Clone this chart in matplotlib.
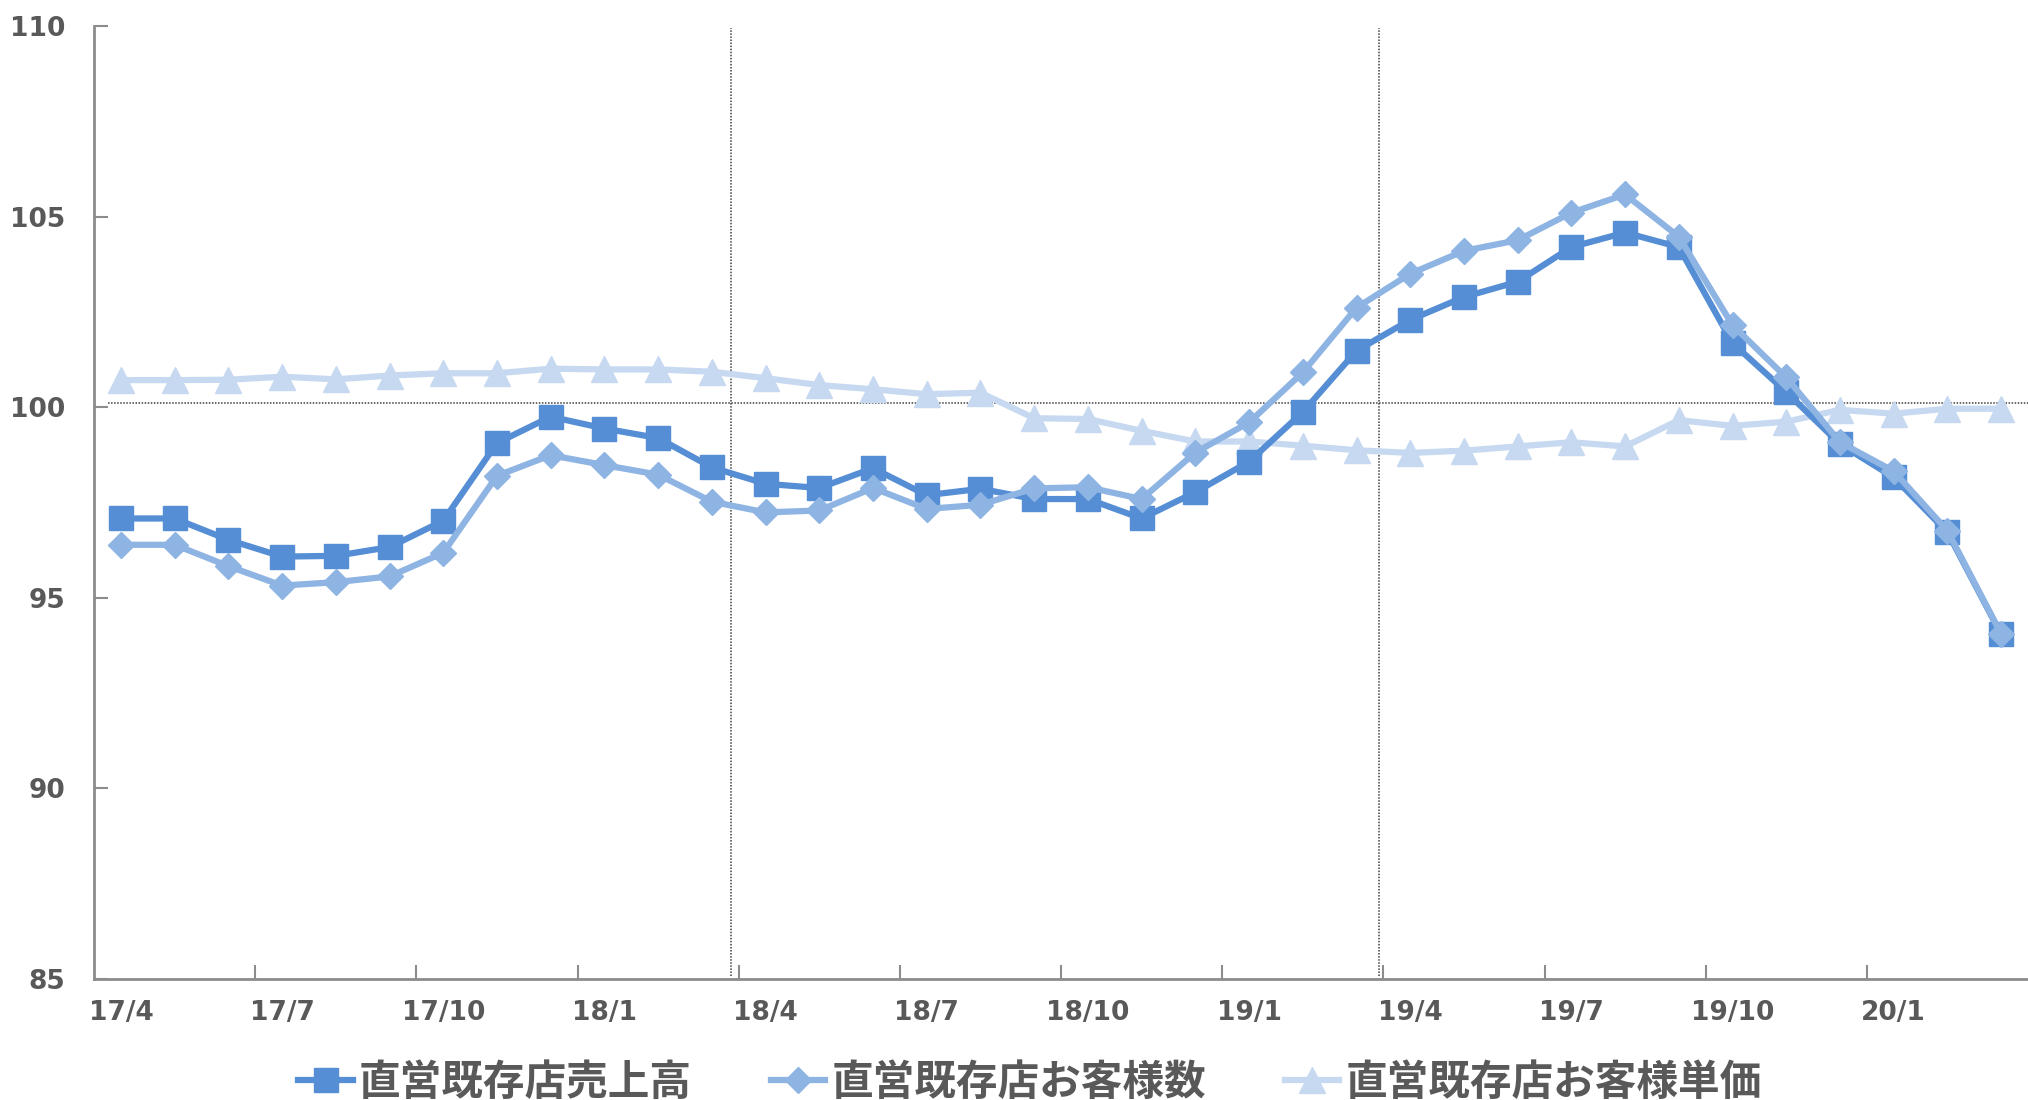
import matplotlib
matplotlib.use("Agg")
import matplotlib.pyplot as plt

# ---------------------------------------------------------------------------
# Data (index, 17/4 .. 20/3)
# ---------------------------------------------------------------------------
months = ["17/4", "17/5", "17/6", "17/7", "17/8", "17/9", "17/10", "17/11",
          "17/12", "18/1", "18/2", "18/3", "18/4", "18/5", "18/6", "18/7",
          "18/8", "18/9", "18/10", "18/11", "18/12", "19/1", "19/2", "19/3",
          "19/4", "19/5", "19/6", "19/7", "19/8", "19/9", "19/10", "19/11",
          "19/12", "20/1", "20/2", "20/3"]

sales = [97.08, 97.08, 96.52, 96.08, 96.10, 96.33, 97.02, 99.06,
         99.75, 99.44, 99.19, 98.42, 97.99, 97.88, 98.40, 97.69,
         97.86, 97.59, 97.59, 97.08, 97.77, 98.57, 99.87, 101.48,
         102.29, 102.89, 103.29, 104.20, 104.58, 104.20, 101.68, 100.40,
         99.03, 98.16, 96.72, 94.04]

customers = [96.39, 96.39, 95.83, 95.32, 95.41, 95.56, 96.18, 98.20,
             98.74, 98.48, 98.23, 97.52, 97.24, 97.29, 97.88, 97.33,
             97.44, 97.87, 97.90, 97.59, 98.81, 99.60, 100.91, 102.61,
             103.50, 104.10, 104.38, 105.10, 105.58, 104.47, 102.15, 100.78,
             99.08, 98.32, 96.76, 94.05]

unit_price = [100.71, 100.71, 100.72, 100.80, 100.73, 100.83, 100.89, 100.89,
              101.01, 100.99, 100.99, 100.93, 100.76, 100.58, 100.47, 100.34,
              100.38, 99.71, 99.69, 99.38, 99.10, 99.10, 98.99, 98.87,
              98.80, 98.86, 98.97, 99.08, 98.97, 99.66, 99.51, 99.62,
              99.93, 99.83, 99.96, 99.96]

labels = ["直営既存店売上高", "直営既存店お客様数", "直営既存店お客様単価"]
tick_labels = months[::3]
fy_marks = [11.36, 23.42]     # fiscal-year separators
base_level = 100.1

# ---------------------------------------------------------------------------
# Figure
# ---------------------------------------------------------------------------
plt.rcParams["font.family"] = ["DejaVu Sans", "Noto Sans CJK JP"]
GREY = "#595959"
AXIS = "#8c8c8c"

fig = plt.figure(figsize=(20.28, 11.0), dpi=100)
ax = fig.add_axes([0.0464, 0.11, 0.9536, 0.8664])

x = list(range(len(months)))

ax.plot(x, unit_price, color="#c6d9f1", lw=4.5, marker="^", ms=19,
        mec="#c6d9f1", label=labels[2], zorder=3)
ax.plot(x, sales, color="#558ed5", lw=4.5, marker="s", ms=17,
        mec="#558ed5", label=labels[0], zorder=4)
ax.plot(x, customers, color="#8eb4e3", lw=4.5, marker="D", ms=13,
        mec="#8eb4e3", label=labels[1], zorder=5)

# reference lines
ax.axhline(base_level, xmin=0.007, xmax=1, color="#404040", lw=1.1,
           ls=(0, (1, 1)), zorder=2)
for xv in fy_marks:
    ax.axvline(xv, ymin=0.003, ymax=0.998, color="#404040", lw=1.1,
               ls=(0, (1, 1)), zorder=2)

ax.set_xlim(-0.5, len(months) - 0.5)
ax.set_ylim(85, 110)

# y axis
ax.set_yticks([85, 90, 95, 100, 105, 110])
ax.tick_params(axis="y", direction="in", length=10, width=1.5, color=AXIS,
               labelsize=19, labelcolor=GREY, pad=21)

# x axis: tick marks between categories, labels every 3 months
ax.set_xticks([2.5 + 3 * k for k in range(11)])
ax.set_xticklabels([])
ax.tick_params(axis="x", which="major", direction="in", length=10, width=1.5,
               color=AXIS)
ax.set_xticks(list(range(0, len(months), 3)), minor=True)
ax.set_xticklabels(tick_labels, minor=True)
ax.tick_params(axis="x", which="minor", length=0, labelsize=19,
               labelcolor=GREY, pad=15)

for lab in ax.get_xticklabels(minor=True) + ax.get_yticklabels():
    lab.set_fontweight("bold")

for side in ["top", "right"]:
    ax.spines[side].set_visible(False)
for side in ["left", "bottom"]:
    ax.spines[side].set_color(AXIS)
    ax.spines[side].set_linewidth(2)

# legend in series order
h, l = ax.get_legend_handles_labels()
order = [1, 2, 0]
leg = fig.legend([h[i] for i in order], [l[i] for i in order],
                 loc="center", bbox_to_anchor=(0.508, 0.0155), ncol=3,
                 frameon=False, handlelength=1.3, handletextpad=0.15,
                 columnspacing=1.9,
                 prop={"family": ["Noto Sans CJK JP"], "weight": "bold",
                       "size": 30})
for t in leg.get_texts():
    t.set_color(GREY)

fig.savefig("out.png", dpi=100)
